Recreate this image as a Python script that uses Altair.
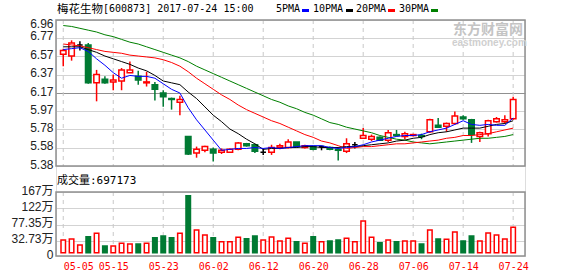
import json
import altair as alt
import numpy as np
import pandas as pd

# ---------------- data ----------------
dates = ["05-05", "05-08", "05-09", "05-10", "05-11", "05-12", "05-15", "05-16", "05-17", "05-18",
         "05-19", "05-22", "05-23", "05-24", "05-25", "05-26", "05-31", "06-01", "06-02", "06-05",
         "06-06", "06-07", "06-08", "06-09", "06-12", "06-13", "06-14", "06-15", "06-16", "06-19",
         "06-20", "06-21", "06-22", "06-23", "06-26", "06-27", "06-28", "06-29", "06-30", "07-03",
         "07-04", "07-05", "07-06", "07-07", "07-10", "07-11", "07-12", "07-13", "07-14", "07-17",
         "07-18", "07-19", "07-20", "07-21", "07-24"]

opens = [6.59, 6.57, 6.69, 6.69, 6.28, 6.32, 6.29, 6.30, 6.39, 6.35,
         6.28, 6.26, 6.17, 6.11, 6.07, 5.70, 5.52, 5.55, 5.56, 5.53,
         5.53, 5.56, 5.62, 5.61, 5.53, 5.53, 5.58, 5.58, 5.64, 5.58,
         5.59, 5.59, 5.58, 5.56, 5.54, 5.61, 5.68, 5.67, 5.69, 5.66,
         5.72, 5.70, 5.71, 5.71, 5.75, 5.82, 5.81, 5.84, 5.91, 5.88,
         5.70, 5.73, 5.86, 5.86, 5.89]
highs = [6.65, 6.74, 6.73, 6.71, 6.42, 6.35, 6.37, 6.44, 6.51, 6.41,
         6.40, 6.29, 6.20, 6.12, 6.14, 5.70, 5.59, 5.60, 5.58, 5.57,
         5.57, 5.64, 5.63, 5.62, 5.57, 5.61, 5.62, 5.67, 5.64, 5.61,
         5.60, 5.60, 5.59, 5.58, 5.68, 5.64, 5.79, 5.72, 5.70, 5.77,
         5.77, 5.75, 5.73, 5.73, 5.89, 5.90, 5.85, 5.97, 5.93, 5.89,
         5.75, 5.88, 5.91, 5.93, 6.13]
lows = [6.46, 6.52, 6.63, 6.27, 6.08, 6.27, 6.20, 6.20, 6.39, 6.26,
        6.24, 6.09, 6.02, 5.99, 5.93, 5.50, 5.47, 5.53, 5.43, 5.51,
        5.52, 5.55, 5.59, 5.52, 5.50, 5.50, 5.56, 5.57, 5.58, 5.57,
        5.55, 5.55, 5.55, 5.44, 5.52, 5.57, 5.68, 5.65, 5.65, 5.64,
        5.70, 5.67, 5.70, 5.67, 5.74, 5.79, 5.75, 5.83, 5.88, 5.63,
        5.64, 5.70, 5.85, 5.84, 5.88]
closes = [6.63, 6.71, 6.69, 6.28, 6.37, 6.28, 6.31, 6.42, 6.42, 6.31,
          6.29, 6.21, 6.13, 6.10, 6.10, 5.51, 5.56, 5.59, 5.52, 5.55,
          5.56, 5.63, 5.60, 5.54, 5.53, 5.58, 5.60, 5.64, 5.59, 5.60,
          5.56, 5.59, 5.56, 5.55, 5.62, 5.61, 5.71, 5.70, 5.66, 5.74,
          5.71, 5.73, 5.72, 5.70, 5.88, 5.80, 5.84, 5.92, 5.89, 5.72,
          5.74, 5.87, 5.89, 5.88, 6.10]
# volume in 万 (10k)
volumes = [35.0, 37.8, 21.3, 44.2, 53.3, 18.5, 18.5, 25.8, 24.0, 24.0,
           25.8, 41.4, 46.0, 41.4, 53.3, 156.9, 62.5, 48.8, 41.4, 30.4,
           30.4, 42.3, 38.7, 46.0, 35.0, 43.3, 32.3, 39.6, 30.4, 25.8,
           44.2, 30.4, 32.3, 35.0, 39.6, 30.4, 87.3, 42.3, 27.7, 35.0,
           30.4, 32.3, 32.3, 24.0, 62.5, 37.8, 36.8, 57.0, 32.3, 46.0,
           32.3, 54.3, 48.8, 37.8, 69.72]

ma5 = [6.64, 6.65, 6.66, 6.62, 6.54, 6.47, 6.39, 6.33, 6.36, 6.35,
       6.35, 6.33, 6.27, 6.21, 6.17, 6.01, 5.88, 5.77, 5.66, 5.55,
       5.56, 5.57, 5.57, 5.58, 5.57, 5.58, 5.57, 5.58, 5.59, 5.60,
       5.60, 5.60, 5.58, 5.57, 5.58, 5.59, 5.61, 5.64, 5.66, 5.68,
       5.70, 5.71, 5.71, 5.72, 5.75, 5.77, 5.79, 5.83, 5.87, 5.83,
       5.82, 5.83, 5.82, 5.82, 5.90]
ma10 = [6.67, 6.67, 6.67, 6.64, 6.61, 6.57, 6.54, 6.51, 6.48, 6.44,
        6.41, 6.36, 6.30, 6.28, 6.26, 6.18, 6.11, 6.02, 5.93, 5.86,
        5.78, 5.73, 5.67, 5.62, 5.56, 5.57, 5.57, 5.58, 5.58, 5.59,
        5.59, 5.58, 5.58, 5.58, 5.59, 5.59, 5.60, 5.61, 5.62, 5.63,
        5.65, 5.66, 5.68, 5.69, 5.72, 5.74, 5.75, 5.77, 5.79, 5.79,
        5.79, 5.81, 5.83, 5.84, 5.87]
ma20 = [6.70, 6.69, 6.68, 6.66, 6.64, 6.62, 6.61, 6.60, 6.58, 6.57,
        6.56, 6.55, 6.53, 6.50, 6.46, 6.40, 6.33, 6.27, 6.21, 6.15,
        6.10, 6.04, 5.99, 5.95, 5.91, 5.87, 5.84, 5.80, 5.76, 5.72,
        5.69, 5.65, 5.63, 5.60, 5.57, 5.58, 5.59, 5.59, 5.60, 5.61,
        5.62, 5.62, 5.63, 5.64, 5.65, 5.66, 5.68, 5.69, 5.71, 5.71,
        5.72, 5.73, 5.75, 5.77, 5.79]
ma30 = [6.90, 6.89, 6.87, 6.85, 6.83, 6.80, 6.78, 6.75, 6.72, 6.70,
        6.67, 6.64, 6.61, 6.58, 6.55, 6.51, 6.46, 6.42, 6.38, 6.34,
        6.30, 6.26, 6.22, 6.18, 6.14, 6.10, 6.07, 6.03, 6.00, 5.96,
        5.93, 5.89, 5.85, 5.83, 5.80, 5.78, 5.76, 5.74, 5.71, 5.69,
        5.67, 5.66, 5.64, 5.63, 5.62, 5.63, 5.64, 5.65, 5.66, 5.67,
        5.68, 5.68, 5.69, 5.70, 5.72]

tick_dates = ["05-05", "05-15", "05-23", "06-02", "06-12", "06-20", "06-28", "07-06", "07-14", "07-24"]
price_ticks = [5.38, 5.58, 5.78, 5.97, 6.17, 6.37, 6.57, 6.77, 6.96]
vol_ticks = [0, 32.73, 77.35, 122, 167]
vol_tick_labels = ["0", "32.73万", "77.35万", "122万", "167万"]

title_name = "梅花生物"
title_rest = "[600873] 2017-07-24 15:00"
vol_title = "成交量:697173"
legend_names = ["5PMA", "10PMA", "20PMA", "30PMA"]
watermark_cn = "东方财富网"
watermark_en = "eastmoney.com"

# ---------------- styling ----------------
RED = "#ff0000"
GREEN = "#007a33"
ma_colors = ["#0000ff", "#000000", "#ff0000", "#008000"]
GRID = "#d3d3d3"
FRAME = "#909090"

W, H = 469, 236          # plot area (abs x 56..525, y 20..256)
PH = 146                 # price panel height
VT, VB = 172, 236        # volume panel top/bottom (relative)

n = len(dates)
df = pd.DataFrame({
    "idx": np.arange(n), "date": dates, "open": opens, "high": highs,
    "low": lows, "close": closes, "vol": volumes,
    "ma5": ma5, "ma10": ma10, "ma20": ma20, "ma30": ma30,
})
o = np.array(opens); c = np.array(closes)
df["dir"] = np.where(c > o, "up", np.where(c < o, "down", "flat"))
df["vdir"] = np.where(c < o, "down", "up")

tick_idx = [dates.index(d) for d in tick_dates]
ticks_df = pd.DataFrame({"idx": tick_idx})

xs = alt.Scale(domain=[-0.27, 54.82], nice=False, zero=False)
x_axis = alt.Axis(values=tick_idx, labelExpr=f"{json.dumps(dates)}[datum.value]",
                  grid=False, ticks=False, domain=False, title=None,
                  labelColor=RED, labelFont="DejaVu Sans Mono", labelFontSize=10,
                  labelPadding=5, labelFlush=False,
                  labelAlign=alt.condition("datum.value == 0", alt.value("left"), alt.value("center")))
X = alt.X("idx:Q", scale=xs, axis=x_axis)

ps = alt.Scale(domain=[5.38, 6.96], range=[PH, 0], nice=False, zero=False)
price_axis = alt.Axis(values=price_ticks, title=None, orient="left", domain=False, ticks=False,
                      format=".2f", labelFont="Liberation Sans", labelFontSize=12, labelColor="#222",
                      labelPadding=3, grid=True, labelFlush=False,
                      gridColor=alt.condition("datum.value == 6.17", alt.value(FRAME), alt.value(GRID)),
                      labelBaseline=alt.condition("datum.value == 6.96", alt.value("top"), alt.value("middle")),
                      labelOffset=-2)

vs = alt.Scale(domain=[-9, 167], range=[VB, VT], nice=False, zero=False)
vol_axis = alt.Axis(values=vol_ticks, title=None, orient="left", domain=False, ticks=False,
                    labelExpr=f"{json.dumps(vol_tick_labels, ensure_ascii=False)}[indexof({json.dumps(vol_ticks)}, datum.value)]",
                    labelFont="Liberation Sans, Noto Sans CJK SC", labelFontSize=12, labelColor="#222",
                    labelPadding=3, grid=True, gridColor=GRID, labelFlush=False,
                    gridOpacity=alt.condition("datum.value == 0", alt.value(0), alt.value(1)),
                    labelOffset=alt.condition("datum.value == 0", alt.value(2), alt.value(-2)))

dir_dom = ["up", "down", "flat"]
stroke_scale = alt.Scale(domain=dir_dom, range=[RED, GREEN, "#000000"])
fill_scale = alt.Scale(domain=dir_dom, range=["#ffffff", GREEN, "#000000"])

base = alt.Chart(df)

# vertical dashed grid lines, per panel
vgrid_p = alt.Chart(ticks_df).mark_rule(color="#c8c8c8", strokeDash=[4, 4], strokeWidth=1).encode(
    x=X, y=alt.value(0), y2=alt.value(PH))
vgrid_v = alt.Chart(ticks_df).mark_rule(color="#c8c8c8", strokeDash=[4, 4], strokeWidth=1).encode(
    x=X, y=alt.value(VT), y2=alt.value(VB))

wicks = base.mark_rule(strokeWidth=1.5).encode(
    x=X, y=alt.Y("low:Q", scale=ps, axis=price_axis), y2="high:Q",
    color=alt.Color("dir:N", scale=stroke_scale, legend=None))
bodies = base.mark_bar(size=5.5, strokeWidth=1.5).encode(
    x=X, y=alt.Y("open:Q", scale=ps, axis=price_axis), y2="close:Q",
    stroke=alt.Stroke("dir:N", scale=stroke_scale, legend=None),
    fill=alt.Fill("dir:N", scale=fill_scale, legend=None))
ma_layers = [
    base.mark_line(color=col, strokeWidth=1).encode(
        x=X, y=alt.Y(f"{f}:Q", scale=ps, axis=price_axis))
    for f, col in zip(["ma30", "ma20", "ma10", "ma5"], ma_colors[::-1])
]

price_group = alt.layer(vgrid_p, wicks, bodies, *ma_layers)

vol_bars = base.mark_bar(size=4.5, strokeWidth=1.5).encode(
    x=X, y=alt.Y("vol:Q", scale=vs, axis=vol_axis), y2=alt.value(VB),
    stroke=alt.Stroke("vdir:N", scale=alt.Scale(domain=["up", "down"], range=[RED, GREEN]), legend=None),
    fill=alt.Fill("vdir:N", scale=alt.Scale(domain=["up", "down"], range=["#ffffff", GREEN]), legend=None))
vol_group = alt.layer(vgrid_v, vol_bars)

one = pd.DataFrame({"k": [0]})
frames = [
    alt.Chart(one).mark_rect(fill=None, stroke=FRAME, strokeWidth=1.5).encode(
        x=alt.value(0), x2=alt.value(W), y=alt.value(0), y2=alt.value(PH)),
    alt.Chart(one).mark_rect(fill=None, stroke=FRAME, strokeWidth=1.5).encode(
        x=alt.value(0), x2=alt.value(W), y=alt.value(VT), y2=alt.value(VB)),
]


def label(text, x, y, font, size, color="#000", weight="normal"):
    return alt.Chart(pd.DataFrame({"t": [text]})).mark_text(
        align="left", baseline="alphabetic", font=font, fontSize=size,
        color=color, fontWeight=weight).encode(
        text="t:N", x=alt.value(x), y=alt.value(y))


texts = [
    label(title_name, 1, -7, "Noto Sans CJK SC", 11.5),
    label(title_rest, 47, -8, "DejaVu Sans Mono", 10),
    label(vol_title, 1, 164, "DejaVu Sans Mono, Noto Sans CJK SC", 11),
    label(watermark_cn, 397, 14, "Noto Sans CJK SC", 14, "#c4c4c4", "bold"),
    label(watermark_en, 396, 26, "Liberation Sans", 10, "#cfcfcf", "bold"),
]
leg_x = [220, 257, 300, 343]
sw_x = [246, 290, 332, 375]
for name, col, lx, sx in zip(legend_names, ma_colors, leg_x, sw_x):
    texts.append(label(name, lx, -8, "DejaVu Sans Mono", 10))
    texts.append(alt.Chart(one).mark_rect(color=col).encode(
        x=alt.value(sx), x2=alt.value(sx + 7), y=alt.value(-11), y2=alt.value(-8)))

chart = alt.layer(price_group, vol_group, *frames, *texts).resolve_scale(
    y="independent"
).properties(
    width=W, height=H,
    autosize=alt.AutoSizeParams(type="none"),
    padding={"left": 56, "top": 20, "right": 53, "bottom": 20},
).configure_view(stroke=None).configure(background="white")

chart.save("out.html", embed_options={"renderer": "svg", "actions": False})
